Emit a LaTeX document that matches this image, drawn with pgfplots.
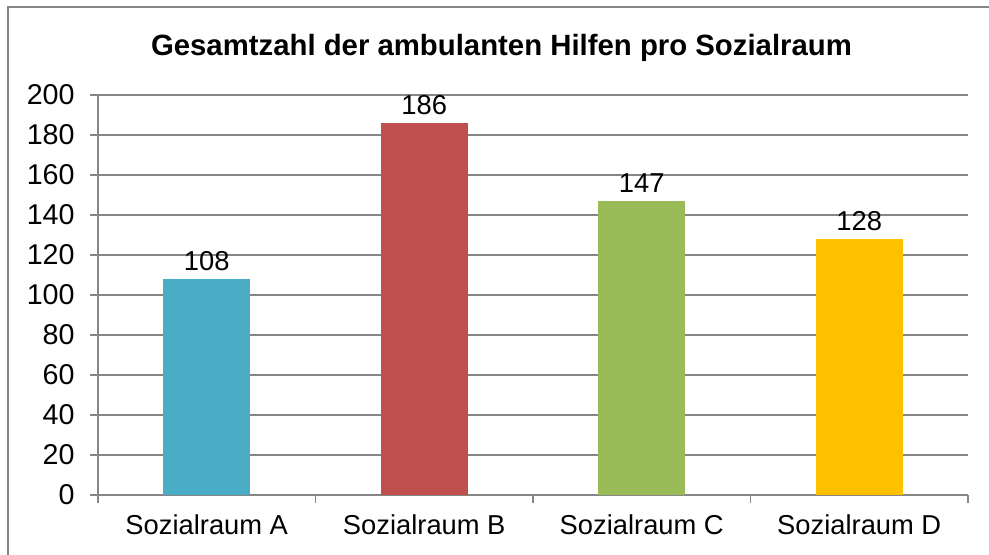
\documentclass[border=0pt]{standalone}
\usepackage{pgfplots}
\pgfplotsset{compat=1.18}
\usepackage{fontspec}
\setmainfont{Liberation Sans}
\definecolor{gridgray}{HTML}{868686}
\definecolor{barA}{HTML}{4BACC6}
\definecolor{barB}{HTML}{C0504D}
\definecolor{barC}{HTML}{9BBB59}
\definecolor{barD}{HTML}{FFC000}
\begin{document}
\begin{tikzpicture}
\begin{axis}[
    scale only axis,
    width=652.5pt,
    height=300pt,
    ybar,
    bar width=0.4,
    xmin=-0.5, xmax=3.5,
    ymin=0, ymax=200,
    ytick={0,20,...,200},
    xtick={0,1,2,3},
    xticklabels={Sozialraum A, Sozialraum B, Sozialraum C, Sozialraum D},
    minor xtick={-0.5,0.5,1.5,2.5,3.5},
    major x tick style={draw=none},
    minor tick length=6pt,
    major tick length=6pt,
    tick align=outside,
    tick style={gridgray, line width=0.8pt},
    ymajorgrids,
    grid style={gridgray, line width=0.8pt},
    axis x line*=bottom,
    axis y line*=left,
    axis line style={gridgray, line width=0.8pt, -},
    tick label style={font=\fontsize{20.5}{24}\selectfont},
    yticklabel style={font=\fontsize{21.5}{24}\selectfont, xshift=-8pt},
    xticklabel style={yshift=-5pt},
    /pgf/number format/assume math mode=true,
    nodes near coords,
    every node near coord/.append style={font=\fontsize{20.5}{24}\selectfont, black, yshift=3pt},
    clip=false,
]
\addplot[fill=barA, draw=none, bar shift=0pt] coordinates {(0,108)};
\addplot[fill=barB, draw=none, bar shift=0pt] coordinates {(1,186)};
\addplot[fill=barC, draw=none, bar shift=0pt] coordinates {(2,147)};
\addplot[fill=barD, draw=none, bar shift=0pt] coordinates {(3,128)};
\coordinate (o) at (rel axis cs:0,0);
\end{axis}
\node[font=\bfseries\fontsize{22}{26}\selectfont] at ([shift={(302.6pt,335pt)}]o) {Gesamtzahl der ambulanten Hilfen pro Sozialraum};
\draw[gridgray, line width=0.9pt] ([shift={(-67.5pt,-50pt)}]o) -- ([shift={(-67.5pt,366pt)}]o) -- ([shift={(668.25pt,366pt)}]o);
\pgfresetboundingbox
\path[use as bounding box] ([shift={(-73.5pt,-45pt)}]o) rectangle ([shift={(668.25pt,371.25pt)}]o);
\end{tikzpicture}
\end{document}
